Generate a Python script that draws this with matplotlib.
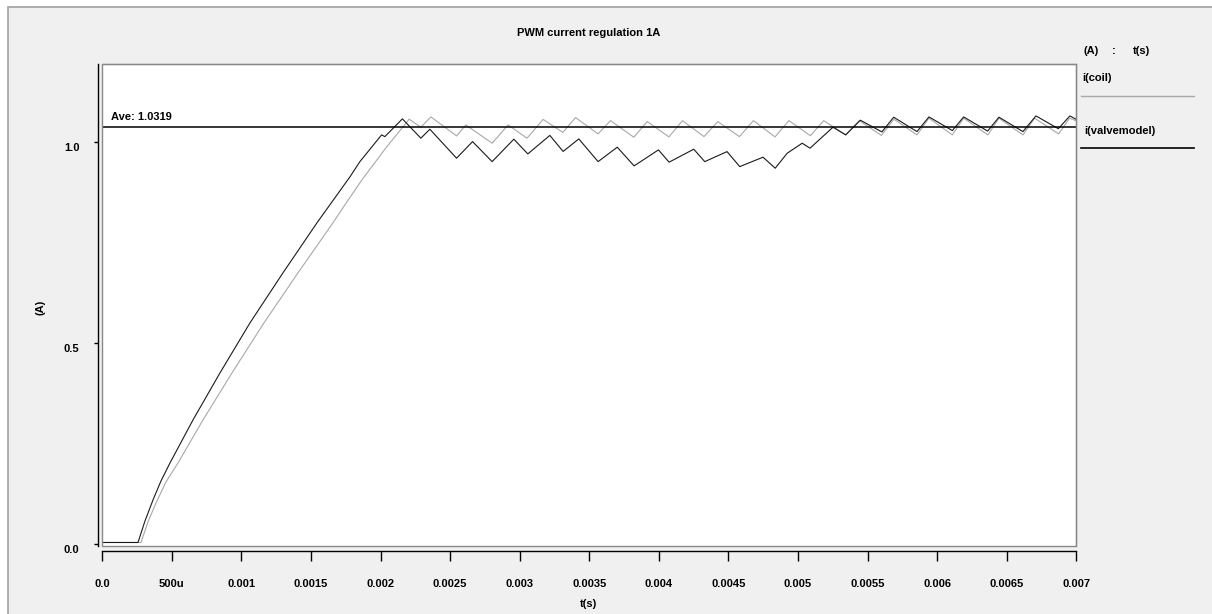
import matplotlib
matplotlib.use('Agg')
import matplotlib.pyplot as plt
from matplotlib.patches import Rectangle
from matplotlib.lines import Line2D
from matplotlib.transforms import ScaledTranslation

plt.rcParams['font.family'] = ['Liberation Sans', 'DejaVu Sans']
plt.rcParams['font.weight'] = 'bold'

# ---------------- data ----------------
title = "PWM current regulation 1A"
x_label = "t(s)"
y_label = "(A)"
legend_header = ["(A)", ":", "t(s)"]
series_names = ["i(coil)", "i(valvemodel)"]

x_ticks = [0.0, 0.0005, 0.001, 0.0015, 0.002, 0.0025, 0.003, 0.0035,
           0.004, 0.0045, 0.005, 0.0055, 0.006, 0.0065, 0.007]
x_tick_labels = ["0.0", "500u", "0.001", "0.0015", "0.002", "0.0025", "0.003",
                 "0.0035", "0.004", "0.0045", "0.005", "0.0055", "0.006",
                 "0.0065", "0.007"]
y_ticks = [0.0, 0.5, 1.0]
y_tick_labels = ["0.0", "0.5", "1.0"]

ave_text = "Ave: 1.0319"
ave_level = 1.036

valve_t = [0.0, 0.2565e-3, 0.3068e-3, 0.3642e-3, 0.4217e-3, 0.4864e-3, 0.6516e-3,
           0.8455e-3, 1.0611e-3,
           1.2981e-3, 1.5424e-3, 1.7795e-3, 1.8513e-3, 2.0072e-3, 2.0309e-3,
           2.1566e-3, 2.2895e-3, 2.3542e-3, 2.5460e-3, 2.6609e-3, 2.8017e-3,
           2.9576e-3, 3.0582e-3, 3.2163e-3, 3.3118e-3, 3.4246e-3, 3.5632e-3,
           3.7011e-3, 3.8218e-3, 3.9971e-3, 4.0733e-3, 4.2507e-3, 4.3297e-3,
           4.4899e-3, 4.5812e-3, 4.7486e-3, 4.8362e-3, 4.9224e-3, 5.0301e-3,
           5.0862e-3, 5.2514e-3, 5.3427e-3, 5.4482e-3, 5.6027e-3, 5.6875e-3,
           5.8549e-3, 5.9411e-3, 6.1092e-3, 6.1904e-3, 6.3628e-3, 6.4440e-3,
           6.6164e-3, 6.7098e-3, 6.8707e-3, 6.9540e-3, 7.0000e-3]
valve_i = [0.003, 0.003, 0.0565, 0.1087, 0.1560, 0.2007, 0.3077,
           0.4246, 0.5490,
           0.6734, 0.7978, 0.9122, 0.9502, 1.0167, 1.0124,
           1.0565, 1.0085, 1.0308, 0.9587, 1.0000, 0.9502,
           1.0060, 0.9694, 1.0154, 0.9756, 1.0067, 0.9502,
           0.9861, 0.9396, 0.9794, 0.9488, 0.9811, 0.9502,
           0.9751, 0.9378, 0.9612, 0.9338, 0.9711, 0.9960,
           0.9836, 1.0358, 1.0167, 1.0532, 1.0241, 1.0607,
           1.0249, 1.0614, 1.0274, 1.0614, 1.0261, 1.0607,
           1.0249, 1.0639, 1.0321, 1.0639, 1.0552]

coil_t = [0.0, 0.2780e-3, 0.3283e-3, 0.3858e-3, 0.4576e-3, 0.5438e-3, 0.7234e-3,
          0.9318e-3, 1.1616e-3,
          1.4059e-3, 1.6573e-3, 1.7579e-3, 1.8657e-3, 2.0381e-3, 2.2055e-3,
          2.2895e-3, 2.3614e-3, 2.5460e-3, 2.6128e-3, 2.8017e-3, 2.9167e-3,
          3.0524e-3, 3.1681e-3, 3.3097e-3, 3.4008e-3, 3.5632e-3, 3.6523e-3,
          3.8197e-3, 3.9167e-3, 4.0725e-3, 4.1695e-3, 4.3247e-3, 4.4231e-3,
          4.5790e-3, 4.6796e-3, 4.8347e-3, 4.9346e-3, 5.0891e-3, 5.1846e-3,
          5.3427e-3, 5.4396e-3, 5.5992e-3, 5.6897e-3, 5.8549e-3, 5.9411e-3,
          6.1092e-3, 6.1904e-3, 6.3650e-3, 6.4440e-3, 6.6164e-3, 6.7004e-3,
          6.8728e-3, 6.9518e-3, 7.0000e-3]
coil_i = [0.003, 0.003, 0.0540, 0.1012, 0.1535, 0.2007, 0.3077,
          0.4246, 0.5490,
          0.6734, 0.7978, 0.8500, 0.9047, 0.9843, 1.0557,
          1.0358, 1.0614, 1.0142, 1.0415, 0.9960, 1.0415,
          1.0085, 1.0552, 1.0229, 1.0597, 1.0192, 1.0522,
          1.0109, 1.0498, 1.0117, 1.0520, 1.0124, 1.0498,
          1.0124, 1.0522, 1.0117, 1.0522, 1.0147, 1.0522,
          1.0167, 1.0522, 1.0154, 1.0557, 1.0167, 1.0582,
          1.0167, 1.0582, 1.0167, 1.0582, 1.0167, 1.0582,
          1.0192, 1.0582, 1.0515]

# ---------------- figure ----------------
W, H = 1212, 614
fig = plt.figure(figsize=(W / 100, H / 100), dpi=100)
fig.patch.set_facecolor('white')

def fx(px):
    return px / W

def fy(py):
    return 1 - py / H

# outer gray panel
fig.patches.append(Rectangle((fx(8), -0.1), 1.2, fy(7) + 0.1, transform=fig.transFigure,
                             facecolor='#f0f0f0', edgecolor='#a0a0a0', linewidth=1.2,
                             zorder=-10))

left, right, top, bottom = 102.3, 1076.3, 64, 545.7
ax = fig.add_axes([fx(left), fy(bottom), (right - left) / W, (bottom - top) / H])
ax.set_zorder(1)
ax.set_facecolor('white')

coil_color = '#a8a8a8'
valve_color = '#1a1a1a'
ax.plot(coil_t, coil_i, color=coil_color, linewidth=0.8, zorder=2)
ax.plot(valve_t, valve_i, color=valve_color, linewidth=0.8, zorder=3)
ax.axhline(ave_level, color='black', linewidth=1.1, zorder=4)
ax.text(0.0000625, ave_level + 0.012, ave_text, fontsize=8, fontweight='bold',
        ha='left', va='bottom')

ax.set_xlim(0, 0.007)
ax.set_ylim(-0.005, 1.193)

# box border
for s in ['top', 'right']:
    ax.spines[s].set_color('#888888')
    ax.spines[s].set_linewidth(0.9)
ax.add_patch(Rectangle((0, 0), 1, 1, transform=ax.transAxes, fill=False,
                       edgecolor='#888888', linewidth=1.0, clip_on=False, zorder=5))

# detached axes
ax.spines['left'].set_position(('outward', 3.3))
ax.spines['bottom'].set_position(('outward', 3.6))
ax.spines['left'].set_color('black')
ax.spines['bottom'].set_color('black')
ax.spines['left'].set_linewidth(1.0)
ax.spines['bottom'].set_linewidth(1.0)

ax.set_xticks(x_ticks)
ax.set_xticklabels(x_tick_labels, fontsize=8, fontweight='bold')
ax.set_yticks(y_ticks)
ax.set_yticklabels(y_tick_labels, fontsize=8, fontweight='bold')
ax.tick_params(axis='x', direction='out', length=7.2, width=1.0, pad=13, color='black')
ax.tick_params(axis='y', direction='out', length=3.2, width=1.0, pad=10, color='black')

offset = ScaledTranslation(0, -5 / 100, fig.dpi_scale_trans)
for lab in ax.get_yticklabels():
    lab.set_transform(lab.get_transform() + offset)

# titles
fig.text(fx(589), fy(33), title, fontsize=8, fontweight='bold', ha='center', va='center')
fig.text(fx(589), fy(604), x_label, fontsize=8, fontweight='bold', ha='center', va='center')
fig.text(fx(41), fy(307), y_label, fontsize=8, fontweight='bold', ha='center', va='center',
         rotation=90)

# legend
fig.text(fx(1083), fy(51), legend_header[0], fontsize=8, fontweight='bold', ha='left', va='center')
fig.text(fx(1114), fy(51), legend_header[1], fontsize=8, fontweight='bold', ha='center', va='center')
fig.text(fx(1133), fy(51), legend_header[2], fontsize=8, fontweight='bold', ha='left', va='center')
fig.text(fx(1082), fy(78), series_names[0], fontsize=8, fontweight='bold', ha='left', va='center')
fig.lines.append(Line2D([fx(1081), fx(1194)], [fy(95.7), fy(95.7)], transform=fig.transFigure,
                        color=coil_color, linewidth=1.0))
fig.text(fx(1084), fy(131), series_names[1], fontsize=8, fontweight='bold', ha='left', va='center')
fig.lines.append(Line2D([fx(1081), fx(1194)], [fy(148.3), fy(148.3)], transform=fig.transFigure,
                        color='black', linewidth=1.2))

fig.savefig('out.png', dpi=100)
